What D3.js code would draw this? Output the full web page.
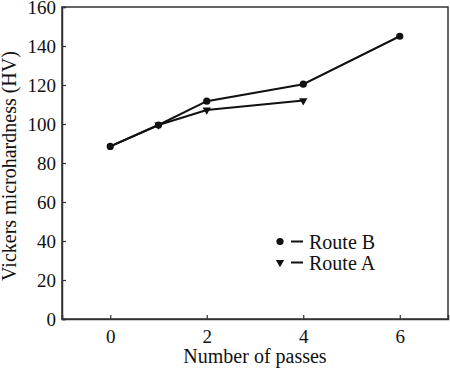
<!DOCTYPE html>
<html><head><meta charset="utf-8">
<script src="https://cdn.jsdelivr.net/npm/d3@7"></script>
<style>body{margin:0;background:#fff}svg{display:block}text{font-family:"Liberation Serif","Times New Roman",serif;fill:#111}</style>
</head><body>
<script>
const passesB = [0, 1, 2, 4, 6];
const routeB = [88.5, 99.5, 111.7, 120.4, 145];
const passesA = [0, 1, 2, 4];
const routeA = [88.5, 99.5, 107.2, 112];
const xTicks = [0, 2, 4, 6];
const yTicks = [0, 20, 40, 60, 80, 100, 120, 140, 160];
const seriesNames = ["Route B", "Route A"];

const W = 450, H = 370;
const m = {l: 62, r: 2, t: 7, b: 51};
const svg = d3.select("body").append("svg").attr("width", W).attr("height", H);
const x = d3.scaleLinear().domain([-1, 7]).range([m.l, W - m.r]);
const y = d3.scaleLinear().domain([0, 160]).range([H - m.b, m.t]);

// frame
svg.append("rect").attr("x", m.l).attr("y", m.t).attr("width", W - m.r - m.l).attr("height", H - m.b - m.t)
  .attr("fill", "none").attr("stroke", "#333").attr("stroke-width", 1.5);

const xa = svg.append("g").attr("transform", `translate(0,${H - m.b})`)
  .call(d3.axisBottom(x).tickValues(xTicks).tickSize(-4).tickPadding(11).tickFormat(d3.format("d")));
const ya = svg.append("g").attr("transform", `translate(${m.l},0)`)
  .call(d3.axisLeft(y).tickValues(yTicks).tickSize(-4).tickPadding(6).tickFormat(d3.format("d")));
[xa, ya].forEach(a => {
  a.select(".domain").attr("stroke", "#333").attr("stroke-width", 1.5);
  a.selectAll(".tick line").attr("stroke", "#333").attr("stroke-width", 1.2);
  a.selectAll("text").attr("font-size", 19).attr("font-family", "Liberation Serif").attr("fill", "#111");
});
xa.selectAll("text").attr("dy", "0.71em");
ya.selectAll("text").attr("dy", "0.34em");

svg.append("text").attr("x", (m.l + W - m.r) / 2).attr("y", 363).attr("text-anchor", "middle")
  .attr("font-size", 20).text("Number of passes");
svg.append("text").attr("transform", `translate(16,${(m.t + H - m.b) / 2 + 3}) rotate(-90)`)
  .attr("text-anchor", "middle").attr("font-size", 20).text("Vickers microhardness (HV)");

const line = d3.line().x(d => x(d[0])).y(d => y(d[1]));
const dA = passesA.map((p, i) => [p, routeA[i]]);
const dB = passesB.map((p, i) => [p, routeB[i]]);
svg.append("path").attr("d", line(dA)).attr("fill", "none").attr("stroke", "#111").attr("stroke-width", 2);
svg.append("path").attr("d", line(dB)).attr("fill", "none").attr("stroke", "#111").attr("stroke-width", 2);

const tri = d3.symbol().type(d3.symbolTriangle).size(30);
svg.selectAll(".ta").data(dA.slice(1)).join("path")
  .attr("d", tri).attr("transform", d => `translate(${x(d[0])},${y(d[1])}) rotate(180)`).attr("fill", "#111");
svg.selectAll(".cb").data(dB).join("circle")
  .attr("cx", d => x(d[0])).attr("cy", d => y(d[1])).attr("r", 3.6).attr("fill", "#111");

// legend
const lg = svg.append("g");
const ly = [241.5, 262.5];
lg.append("circle").attr("cx", 280).attr("cy", ly[0]).attr("r", 3.6).attr("fill", "#111");
lg.append("path").attr("d", tri).attr("transform", `translate(280,${ly[1]}) rotate(180)`).attr("fill", "#111");
ly.forEach((yy, i) => {
  lg.append("line").attr("x1", 291).attr("x2", 303).attr("y1", yy).attr("y2", yy).attr("stroke", "#111").attr("stroke-width", 2);
  lg.append("text").attr("x", 309).attr("y", yy).attr("dy", "0.35em").attr("font-size", 20).text(seriesNames[i]);
});
</script>
</body></html>
